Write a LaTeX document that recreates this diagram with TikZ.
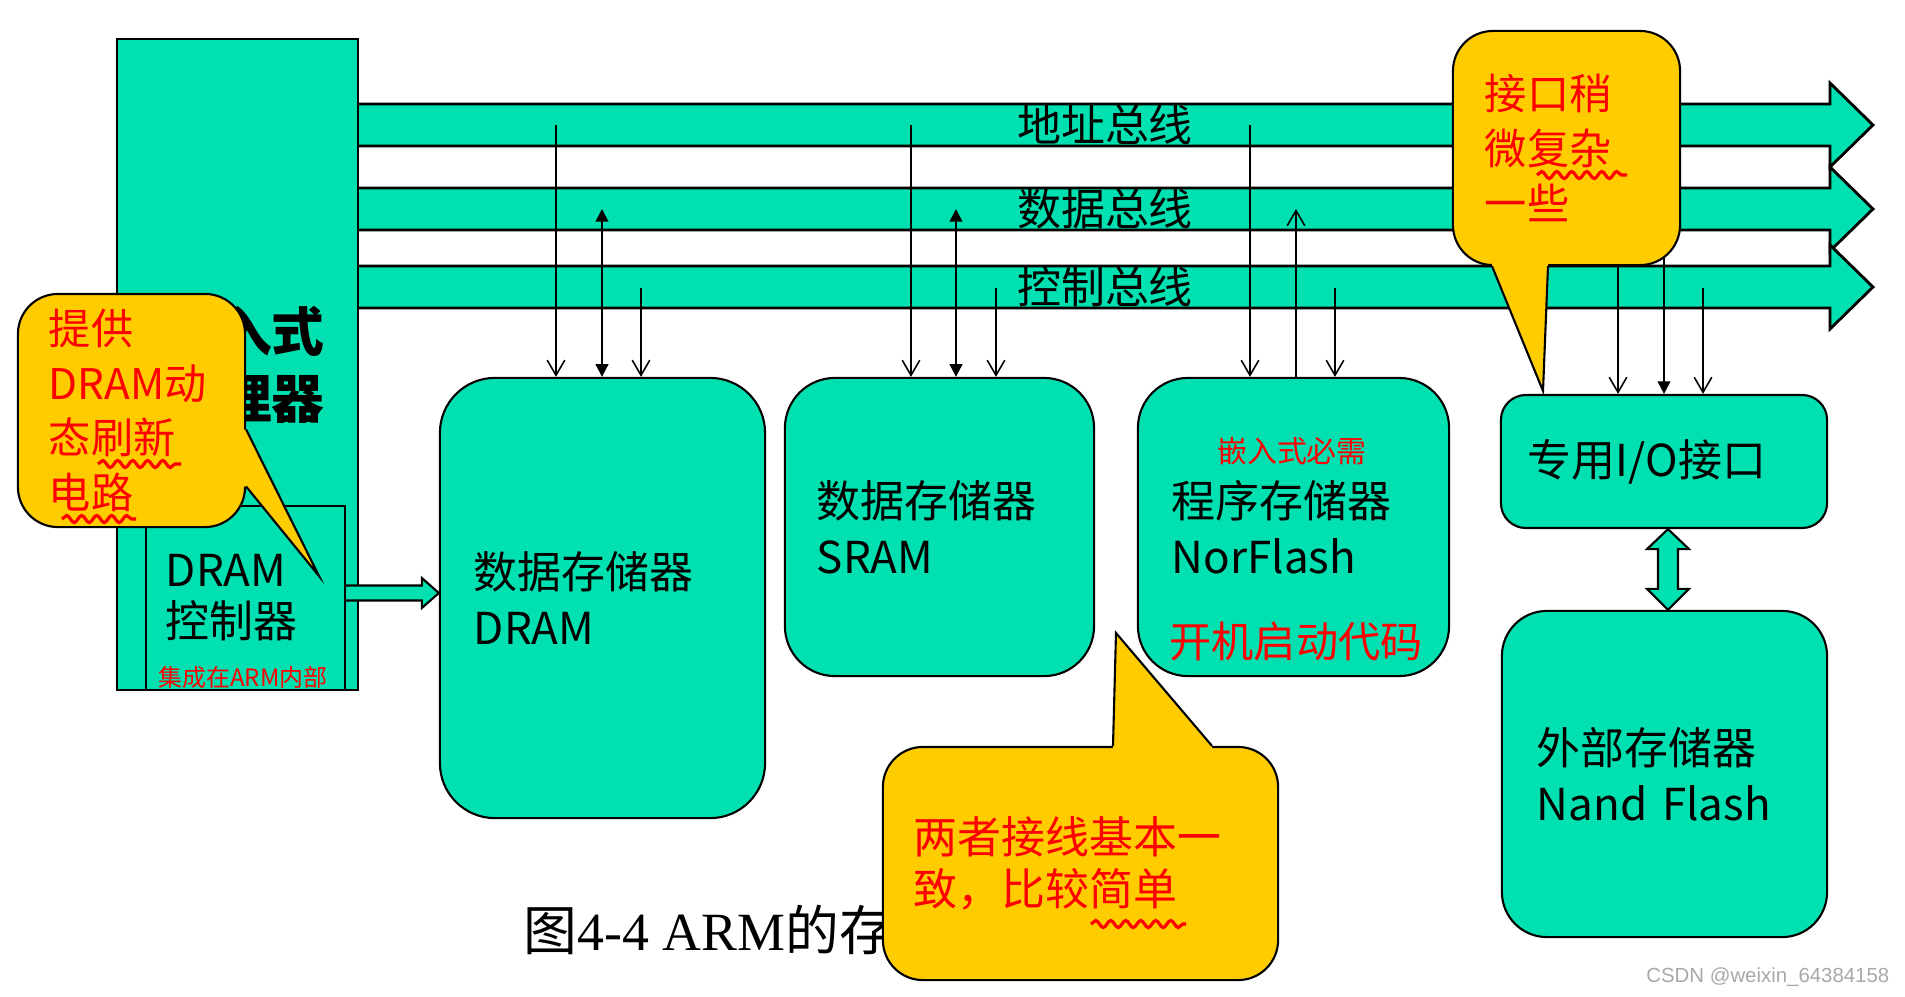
\documentclass[tikz,border=0pt]{standalone}
\usepackage{fontspec}
\setmainfont{Noto Sans CJK SC}
\newfontfamily\capserif{Liberation Serif}
\newfontfamily\markfont{Liberation Sans}
\usetikzlibrary{arrows.meta,calc,decorations.pathmorphing}
\definecolor{ink}{HTML}{000000}
\definecolor{boxfill}{HTML}{00E0B0}
\definecolor{notefill}{HTML}{FFCC00}
\definecolor{pen}{HTML}{FF0000}
\definecolor{wmark}{HTML}{A8A8A8}
\newcommand{\boxfont}{\fontsize{12.5}{15.8}\selectfont}
\tikzset{
  bus/.style={draw=ink,fill=boxfill,line width=.8pt},
  plainbox/.style={draw=ink,fill=boxfill,line width=.6pt,inner ysep=0pt,
    align=left,font=\boxfont},
  membox/.style={plainbox,rounded corners=.5cm},
  buslabel/.style={inner sep=0pt,font=\fontsize{12.5}{12.5}\selectfont},
  wire/.style={draw=ink,line width=.45pt,-{Straight Barb[length=4.3pt,width=5pt]}},
  datawire/.style={draw=ink,line width=.55pt,
    {Triangle[length=3.6pt,width=3.6pt]}-{Triangle[length=3.6pt,width=3.6pt]}},
  note/.style={draw=ink,fill=notefill,line width=.6pt,rounded corners=.4cm,
    inner ysep=0pt,align=left,text=pen,font=\fontsize{12}{15.6}\selectfont},
  pointer/.style={draw=ink,line width=.6pt},
  wavy/.style={draw=pen,line width=.9pt,decorate,
    decoration={snake,amplitude=.035cm,segment length=.15cm}},
  scrawl/.style={text=pen,inner sep=0pt}
}
% One bus: band from the processor edge, open arrow head on the right.
\newcommand{\busband}[3]{%
  \filldraw[bus] (358,#2-21) -- (1830,#2-21) -- (1830,#2-42) -- (1873,#2)
    -- (1830,#2+42) -- (1830,#2+21) -- (358,#2+21);
  \node[buslabel] (#1) at (1105,#2) {#3};
}

\begin{document}
\begin{tikzpicture}[x=.01cm,y=-.01cm]
  \useasboundingbox (0,0) rectangle (1905,996);

  % Address, data and control buses.
  \busband{addrbus}{125}{地址总线}
  \busband{databus}{209}{数据总线}
  \busband{ctrlbus}{287}{控制总线}

  % Processor with its DRAM controller.
  \node[plainbox,minimum width=2.41cm,minimum height=6.51cm] (cpu) at (237.5,364.5) {};
  \node[align=center,inner sep=0pt,font=\bfseries\fontsize{15}{19.3}\selectfont]
    (cpulbl) at (245.5,365) {嵌入式\\处理器};
  \node[plainbox,font=\fontsize{12.5}{14.5}\selectfont,text width=1.59cm,
    inner xsep=.2cm,minimum height=1.84cm] (dramctl) at (245.5,598) {DRAM\\控制器};
  \node[scrawl,font=\fontsize{6.8}{6.8}\selectfont] (ctlnote) at (243,677) {集成在ARM内部};

  % Memories and the I/O interface.
  \node[membox,rounded corners=.55cm,text width=2.57cm,inner xsep=.34cm,
    minimum height=4.4cm] (dram) at (602.5,598) {数据存储器\\DRAM};
  \node[membox,text width=2.45cm,inner xsep=.32cm,minimum height=2.98cm]
    (sram) at (939.5,527) {数据存储器\\SRAM};
  \node[membox,text width=2.43cm,inner xsep=.34cm,minimum height=2.98cm]
    (norflash) at (1293.5,527) {程序存储器\\NorFlash};
  \node[membox,rounded corners=.25cm,text width=2.72cm,inner xsep=.27cm,
    minimum height=1.33cm] (io) at (1664,461.5) {专用I/O接口};
  \node[membox,rounded corners=.45cm,text width=2.55cm,inner xsep=.35cm,
    minimum height=3.26cm] (nand) at (1664.5,774) {外部存储器\\Nand Flash};
  \node[scrawl,font=\fontsize{8.5}{8.5}\selectfont] (nornote) at (1292,451) {嵌入式必需};
  \node[scrawl,font=\fontsize{12}{12}\selectfont] (bootnote) at (1296,642) {开机启动代码};

  % Taps from the buses.
  \coordinate (dram-a) at (556,125);  \coordinate (dram-d) at (602,209);  \coordinate (dram-c) at (641,288);
  \coordinate (sram-a) at (911,125);  \coordinate (sram-d) at (956,209);  \coordinate (sram-c) at (996,288);
  \coordinate (nor-a) at (1250,125);  \coordinate (nor-d) at (1296,209);  \coordinate (nor-c) at (1335,288);
  \coordinate (io-a) at (1618,125);   \coordinate (io-d) at (1664,209);   \coordinate (io-c) at (1703,288);
  \draw[wire] (dram-a) -- (dram-a |- dram.north);
  \draw[datawire] (dram-d) -- (dram-d |- dram.north);
  \draw[wire] (dram-c) -- (dram-c |- dram.north);
  \draw[wire] (sram-a) -- (sram-a |- sram.north);
  \draw[datawire] (sram-d) -- (sram-d |- sram.north);
  \draw[wire] (sram-c) -- (sram-c |- sram.north);
  \draw[wire] (nor-a) -- (nor-a |- norflash.north);
  \draw[wire] (nor-d |- norflash.north) -- (nor-d);
  \draw[wire] (nor-c) -- (nor-c |- norflash.north);
  \draw[wire] (io-a) -- (io-a |- io.north);
  \draw[datawire] (io-d) -- (io-d |- io.north);
  \draw[wire] (io-c) -- (io-c |- io.north);

  % Wide arrows: controller to DRAM, I/O to NAND.
  \coordinate (fatfrom) at ($(dramctl.east)+(0,-5)$);
  \coordinate (fatto) at (fatfrom -| dram.west);
  \filldraw[bus,line width=.6pt] ($(fatfrom)+(0,-7.5)$) -- ($(fatto)+(-17,-7.5)$)
    -- ($(fatto)+(-17,-15)$) -- (fatto) -- ($(fatto)+(-17,15)$)
    -- ($(fatto)+(-17,7.5)$) -- ($(fatfrom)+(0,7.5)$);
  \coordinate (linktop) at ($(io.south)+(4,0)$);
  \coordinate (linkbot) at (linktop |- nand.north);
  \filldraw[bus,line width=.6pt] (linktop) -- ++(21,20) -- ++(-11,0)
    -- ($(linkbot)+(10,-21)$) -- ++(11,0) -- (linkbot) -- ++(-21,-21) -- ++(11,0)
    -- ($(linktop)+(-10,20)$) -- ++(-11,0) -- cycle;

  % Caption, partly hidden by the note below.
  \node[anchor=west,inner sep=0pt,font=\fontsize{15.3}{15.3}\selectfont]
    (caption) at (523,930) {图{\capserif 4-4 ARM}的存};

  % Notes.
  \node[note,text width=1.65cm,inner xsep=.31cm,minimum height=2.33cm]
    (noteleft) at (131.5,410.5) {提供\\DRAM动\\态刷新\\电路};
  \coordinate (tipleft) at (319,576);
  \fill[notefill] ($(noteleft.east)+(0,19)$) -- (tipleft) -- ($(noteleft.east)+(0,76)$)
    -- ($(noteleft.east)+(-4,76)$) -- ($(noteleft.east)+(-4,19)$) -- cycle;
  \draw[pointer] ($(noteleft.east)+(0,19)$) -- (tipleft) -- ($(noteleft.east)+(0,76)$);
  \draw[wavy] (98,464) -- (181,464);
  \draw[wavy] (62,519) -- (136,519);

  \node[note,text width=1.63cm,inner xsep=.32cm,minimum height=2.34cm]
    (noteright) at (1566.5,148) {接口稍\\微复杂\\一些};
  \coordinate (tipright) at (1543,391);
  \fill[notefill] ($(noteright.south)+(-74.5,0)$) -- (tipright) -- ($(noteright.south)+(-18.5,0)$)
    -- ($(noteright.south)+(-18.5,-4)$) -- ($(noteright.south)+(-74.5,-4)$) -- cycle;
  \draw[pointer] ($(noteright.south)+(-74.5,0)$) -- (tipright) -- ($(noteright.south)+(-18.5,0)$);
  \draw[wavy] (1537,175) -- (1627,175);

  \node[note,font=\fontsize{12.5}{14.8}\selectfont,text width=3.33cm,inner xsep=.31cm,
    minimum height=2.33cm] (notebottom) at (1080.5,863.5) {两者接线基本一\\致，比较简单};
  \coordinate (tipbottom) at (1116,633);
  \fill[notefill] ($(notebottom.north)+(32.5,0)$) -- (tipbottom) -- ($(notebottom.north)+(131.5,0)$)
    -- ($(notebottom.north)+(131.5,4)$) -- ($(notebottom.north)+(32.5,4)$) -- cycle;
  \draw[pointer] ($(notebottom.north)+(32.5,0)$) -- (tipbottom) -- ($(notebottom.north)+(131.5,0)$);
  \draw[wavy] (1091,924) -- (1186,924);

  \node[anchor=east,inner sep=0pt,text=wmark,font=\markfont\fontsize{5.8}{6}\selectfont]
    (wmk) at (1890,977) {CSDN @weixin\_64384158};
\end{tikzpicture}
\end{document}
